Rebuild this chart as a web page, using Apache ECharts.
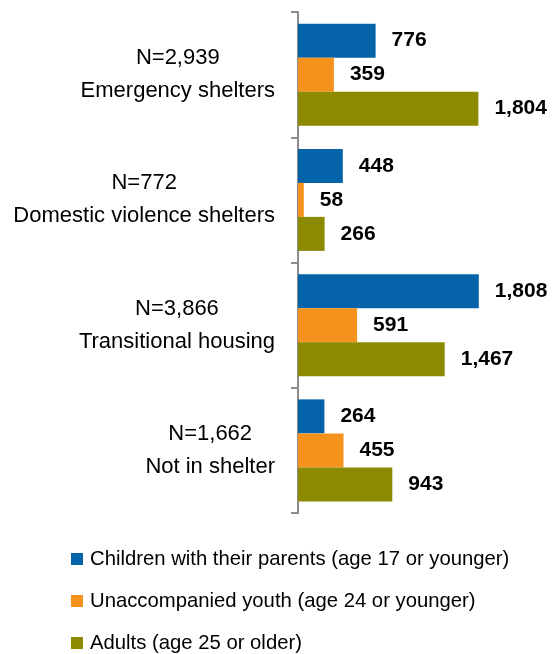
<!DOCTYPE html>
<html>
<head>
<meta charset="utf-8">
<script src="https://cdn.jsdelivr.net/npm/echarts@6/dist/echarts.min.js"></script>
<style>
html,body{margin:0;padding:0;background:#fff;}
#chart{width:554px;height:654px;}
</style>
</head>
<body>
<div id="chart"></div>
<script>
var categories = ['Emergency shelters', 'Domestic violence shelters', 'Transitional housing', 'Not in shelter'];
var totals = ['N=2,939', 'N=772', 'N=3,866', 'N=1,662'];
var seriesNames = ['Children with their parents (age 17 or younger)', 'Unaccompanied youth (age 24 or younger)', 'Adults (age 25 or older)'];
var children = [776, 448, 1808, 264];
var youth = [359, 58, 591, 455];
var adults = [1804, 266, 1467, 943];
var colors = ['#0563A9', '#F5921E', '#8B8A00'];

var FONT = '"Liberation Sans", Arial, sans-serif';
function fmt(v){ return v.toString().replace(/\B(?=(\d{3})+(?!\d))/g, ','); }

var chart = echarts.init(document.getElementById('chart'));
var data = [children, youth, adults];
var series = data.map(function(d, i){
  return {
    name: seriesNames[i],
    type: 'bar',
    data: d,
    barWidth: 34,
    barGap: '0%',
    itemStyle: { color: colors[i] },
    label: {
      show: true,
      position: 'right',
      distance: 16,
      fontFamily: FONT,
      fontSize: 21,
      fontWeight: 'bold',
      color: '#000',
      formatter: function(p){ return fmt(p.value); }
    }
  };
});
chart.setOption({
  animation: false,
  grid: { left: 298, right: 6, top: 12, bottom: 141, containLabel: false, outerBoundsMode: 'none' },
  legend: {
    orient: 'vertical',
    left: 71,
    top: 549,
    height: 150,
    padding: 0,
    itemWidth: 12,
    itemHeight: 12,
    itemGap: 22,
    icon: 'rect',
    textStyle: { fontFamily: FONT, fontSize: 20.3, color: '#000', lineHeight: 20, padding: [0,0,0,2] },
    data: seriesNames
  },
  xAxis: { type: 'value', min: 0, max: 2500, show: false },
  yAxis: {
    type: 'category',
    inverse: true,
    data: categories,
    axisLine: { show: true, lineStyle: { color: '#8C8C8C', width: 2 } },
    axisTick: { show: true, length: 7, lineStyle: { color: '#8C8C8C', width: 2 } },
    axisLabel: {
      margin: 23,
      formatter: function(v, idx){ return '{c|' + totals[idx] + '}\n{c|' + v + '}'; },
      rich: { c: { align: 'center', fontFamily: FONT, fontSize: 22, lineHeight: 33, color: '#000' } }
    }
  },
  series: series
});
</script>
</body>
</html>
